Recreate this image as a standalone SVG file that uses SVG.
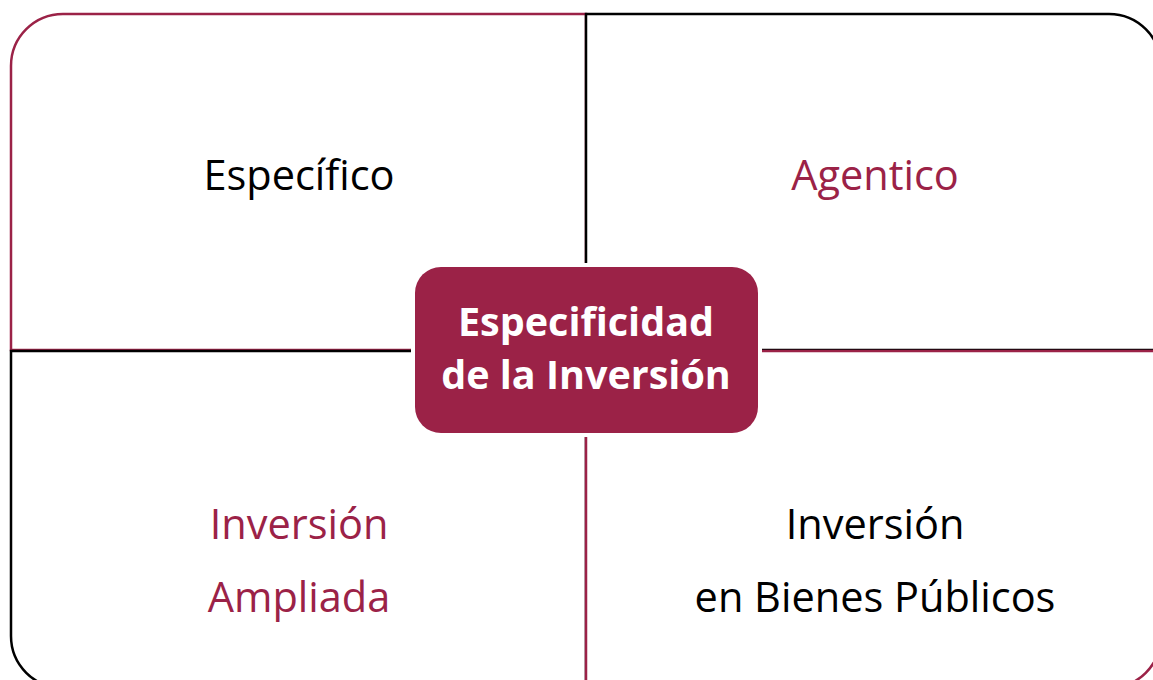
<svg xmlns="http://www.w3.org/2000/svg" width="1153" height="680" viewBox="0 0 1153 680">
<style>
.q{fill:#fff;stroke-width:2.5}
.m{stroke:#9B2247}
.k{stroke:#000}
.t{font-family:"Open Sans","Liberation Sans",sans-serif;font-size:41.5px;text-anchor:middle}
.tm{fill:#9B2247}
.tk{fill:#000}
.c{font-family:"Open Sans","Liberation Sans",sans-serif;font-size:39.5px;font-weight:bold;fill:#fff;text-anchor:middle}
</style>
<rect width="1153" height="680" fill="#fff"/>
<g id="connectors">
<path class="q m" d="M11,350 V66 A52,52 0 0 1 63,14 H586 V350 Z"/>
<path class="q k" d="M586,14 H1109 A52,52 0 0 1 1161,66 V350 H586 Z"/>
<path class="q k" d="M11,351 H586 V688 H63 A52,52 0 0 1 11,636 Z"/>
<path class="q m" d="M586,351 H1161 V636 A52,52 0 0 1 1109,688 H586 Z"/>
</g>
<g id="especifico"><text class="t tk" x="299" y="190">Específico</text></g>
<g id="agentico"><text class="t tm" x="875" y="190">Agentico</text></g>
<g id="inversion-ampliada"><text class="t tm" x="299" y="539">Inversión</text><text class="t tm" x="299" y="612">Ampliada</text></g>
<g id="bienes-publicos"><text class="t tk" x="875" y="539">Inversión</text><text class="t tk" x="875" y="612">en Bienes Públicos</text></g>
<g id="centro">
<rect x="411" y="263" width="351" height="174" rx="30" fill="#fff"/>
<rect x="415" y="267" width="343" height="166" rx="26" fill="#9B2247"/>
<text class="c" x="586" y="336">Especificidad</text>
<text class="c" x="586" y="389">de la Inversión</text>
</g>
</svg>
